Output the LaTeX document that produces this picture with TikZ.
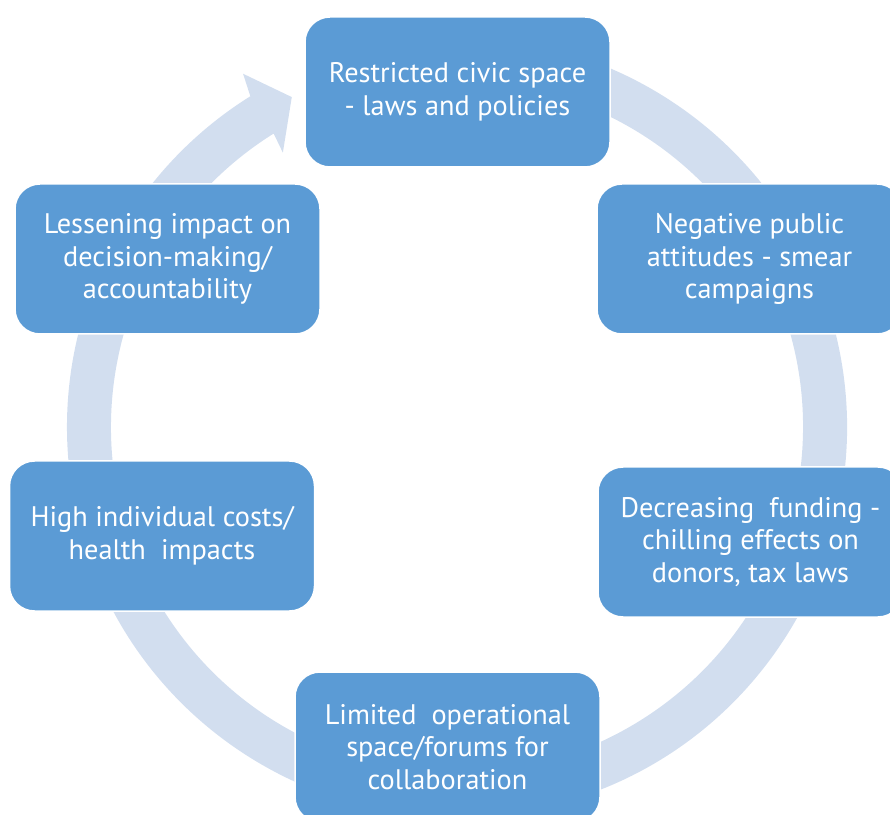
\documentclass[tikz,border=0pt]{standalone}
\usepackage{fontspec}
\setmainfont{PT Sans}
\definecolor{boxblue}{HTML}{5B9BD5}
\definecolor{ringblue}{HTML}{D2DEEF}
\tikzset{
  stagebox/.style={rounded corners=25pt, fill=boxblue, draw=white, line width=1.5pt,
    text=white, align=center, font=\fontsize{28.3}{32.5}\selectfont,
    minimum width=305pt, minimum height=150pt, inner sep=0pt},
  ring/.style={fill=ringblue}
}
\begin{document}
\begin{tikzpicture}[x=1pt,y=1pt]
\path[use as bounding box] (0,0) rectangle (890,814);
\clip (0,0) rectangle (890,814);
\begin{scope}[shift={(457,387)}]
\fill[ring] (105:390) arc[start angle=105, end angle=-238, radius=390]
  -- (121.2:413) -- (116.6:369) -- (122.4:325) -- (-238:346)
  arc[start angle=-238, end angle=105, radius=346] -- cycle;
\end{scope}
\node[stagebox] (top) at (457.5,722) {Restricted civic space\\- laws and policies};
\node[stagebox] (ru) at (749.5,555) {Negative public\\attitudes - smear\\campaigns};
\node[stagebox] (rl) at (750.5,272) {Decreasing~ funding -\\chilling effects on\\donors, tax laws};
\node[stagebox] (bot) at (447.5,67) {Limited~ operational\\space/forums for\\collaboration};
\node[stagebox] (ll) at (162,278) {High individual costs/\\health~ impacts};
\node[stagebox] (lu) at (167.5,555) {Lessening impact on\\decision-making/\\accountability};
\end{tikzpicture}
\end{document}
